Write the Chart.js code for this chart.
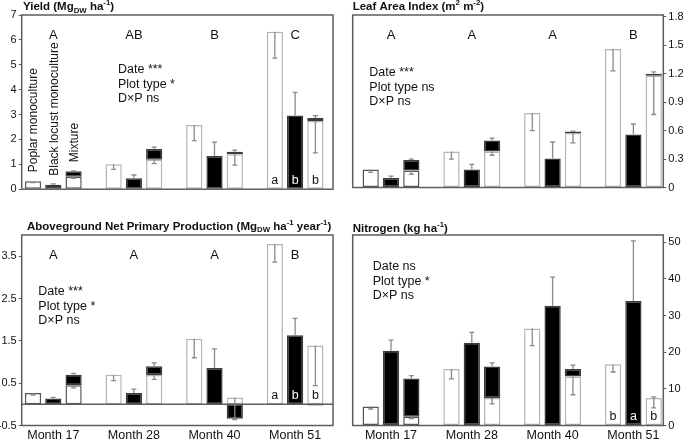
<!DOCTYPE html>
<html>
<head>
<meta charset="utf-8">
<script src="https://cdn.jsdelivr.net/npm/chart.js@4.4.1/dist/chart.umd.min.js"></script>
<style>
html, body { margin: 0; padding: 0; background: #fff; }
#wrap { position: relative; width: 685px; height: 443px; overflow: hidden; }
canvas { position: absolute; }
</style>
</head>
<body>
<div id="wrap">
  <canvas id="yieldChart" width="340" height="220" style="left:0;top:0"></canvas>
  <canvas id="laiChart" width="345" height="220" style="left:340px;top:0"></canvas>
  <canvas id="anppChart" width="340" height="223" style="left:0;top:220px"></canvas>
  <canvas id="nChart" width="345" height="223" style="left:340px;top:220px"></canvas>
</div>
<script>
// categories
const months = ['Month 17', 'Month 28', 'Month 40', 'Month 51'];
const plotTypes = ['Poplar monoculture', 'Black locust monoculture', 'Mixture'];

// yield (Mg DW ha-1)
const yieldPoplar = [0.32, 1.00, 2.58, 6.33];
const yieldPoplarErr = [0.05, 0.20, 0.63, 1.06];
const yieldLocust = [0.18, 0.44, 1.33, 2.96];
const yieldLocustErr = [0.03, 0.13, 0.56, 0.93];
const yieldMixPoplar = [0.50, 1.18, 1.40, 2.74];
const yieldMixPoplarErr = [0.06, 0.15, 0.43, 1.28];
const yieldMixLocust = [0.22, 0.44, 0.10, 0.12];
const yieldMixErr = [0.02, 0.07, 0.07, 0.10];
const yieldTicks = [0, 1, 2, 3, 4, 5, 6, 7];
const yieldGroups = ['A', 'AB', 'B', 'C'];
const yieldLast = ['a', 'b', 'b'];
const yieldStats = ['Date ***', 'Plot type *', 'D\u00d7P ns'];

// leaf area index (m2 m-2)
const laiPoplar = [0.19, 0.38, 0.785, 1.46];
const laiPoplarErr = [0.03, 0.08, 0.185, 0.23];
const laiLocust = [0.10, 0.19, 0.305, 0.56];
const laiLocustErr = [0.02, 0.055, 0.175, 0.11];
const laiMixPoplar = [0.18, 0.38, 0.575, 1.18];
const laiMixPoplarErr = [0.04, 0.04, 0.105, 0.41];
const laiMixLocust = [0.11, 0.115, 0.015, 0.02];
const laiMixErr = [0.01, 0.025, 0.005, 0.02];
const laiTicks = [0, 0.3, 0.6, 0.9, 1.2, 1.5, 1.8];
const laiGroups = ['A', 'A', 'A', 'B'];
const laiStats = ['Date ***', 'Plot type ns', 'D\u00d7P ns'];

// aboveground net primary production (Mg DW ha-1 year-1)
const anppPoplar = [0.27, 0.70, 1.55, 3.79];
const anppPoplarErr = [0.05, 0.14, 0.45, 0.43];
const anppLocust = [0.135, 0.27, 0.86, 1.63];
const anppLocustErr = [0.03, 0.09, 0.45, 0.40];
const anppMixPoplar = [0.45, 0.69, 0.16, 1.39];
const anppMixPoplarErr = [0.06, 0.10, 0.50, 0.95];
const anppMixLocust = [0.25, 0.21, -0.34, -0.03];
const anppMixErr = [0.03, 0.08, 0.02, 0];
const anppTicks = [-0.5, 0.5, 1.5, 2.5, 3.5];
const anppGroups = ['A', 'A', 'A', 'B'];
const anppLast = ['a', 'b', 'b'];
const anppStats = ['Date ***', 'Plot type *', 'D\u00d7P ns'];

// nitrogen (kg ha-1)
const nPoplar = [5.2, 15.4, 26.5, 16.7];
const nPoplarErr = [0.7, 2.7, 4.7, 2.1];
const nLocust = [20.4, 22.6, 32.7, 34.0];
const nLocustErr = [2.9, 2.8, 7.8, 16.4];
const nMixPoplar = [2.4, 7.5, 13.4, 7.5];
const nMixPoplarErr = [0.5, 1.6, 5.0, 2.7];
const nMixLocust = [10.4, 8.6, 2.0, 0];
const nMixErr = [0.8, 1.0, 1.1, 0.3];
const nTicks = [0, 10, 20, 30, 40, 50];
const nLast = ['b', 'a', 'b'];
const nStats = ['Date ns', 'Plot type *', 'D\u00d7P ns'];

const FONT = '"Liberation Sans", Arial, sans-serif';
Chart.defaults.font.family = FONT;
Chart.defaults.color = '#111';

const DARK_EDGE = '#555';
const LIGHT_EDGE = '#b4b4b4';
const BLACK_EDGE = '#3c3c3c';
const ERR_COL = '#8a8a8a';
const BOX_COL = '#5e5e5e';

const whiteEdge = c => c.dataIndex === 0 ? DARK_EDGE : LIGHT_EDGE;

function makeDatasets(p, pe, l, le, mp, mpe, ml, me) {
  const pts = a => a.map((v, i) => ({ x: i, y: v }));
  const mixEnd = ml.map((v, i) => v >= 0 ? mp[i] + v : v);
  return [
    { data: pts(p), stack: 'p', backgroundColor: '#fff', borderColor: whiteEdge,
      errFrom: p, errTo: p.map((v, i) => v - pe[i]) },
    { data: pts(l), stack: 'l', backgroundColor: '#000', borderColor: BLACK_EDGE,
      errFrom: l, errTo: l.map((v, i) => v + le[i]) },
    { data: pts(mp), stack: 'm', backgroundColor: '#fff', borderColor: whiteEdge,
      errFrom: mp, errTo: mp.map((v, i) => v - mpe[i]) },
    { data: pts(ml), stack: 'm', backgroundColor: '#000', borderColor: BLACK_EDGE,
      errFrom: mixEnd, errTo: mixEnd.map((v, i) => v + (ml[i] >= 0 ? 1 : -1) * me[i]) }
  ];
}

function richText(ctx, parts, x, y, size) {
  let cx = x;
  ctx.textAlign = 'left';
  ctx.textBaseline = 'middle';
  parts.forEach(([t, m]) => {
    const s = m ? size * 0.68 : size;
    ctx.font = 'bold ' + s + 'px ' + FONT;
    const dy = m === 'sub' ? size * 0.3 : (m === 'sup' ? -size * 0.32 : 0);
    ctx.fillText(t, cx, y + dy);
    cx += ctx.measureText(t).width;
  });
}

function makeDecor(cfg) {
  return {
    id: 'decor',
    afterDatasetsDraw(chart) {
      const { ctx, chartArea: a, scales: { y } } = chart;
      ctx.save();
      // zero line
      if (y.min < 0) {
        const z = y.getPixelForValue(0);
        ctx.strokeStyle = BOX_COL;
        ctx.lineWidth = 1.5;
        ctx.beginPath(); ctx.moveTo(a.left, z); ctx.lineTo(a.right, z); ctx.stroke();
      }
      // error bars
      ctx.strokeStyle = ERR_COL;
      ctx.lineWidth = 1.3;
      chart.data.datasets.forEach((ds, di) => {
        chart.getDatasetMeta(di).data.forEach((el, i) => {
          if (ds.errTo[i] === ds.errFrom[i]) return;
          const y1 = y.getPixelForValue(ds.errFrom[i]);
          const y2 = y.getPixelForValue(ds.errTo[i]);
          ctx.beginPath();
          ctx.moveTo(el.x, y1); ctx.lineTo(el.x, y2);
          ctx.moveTo(el.x - 2.5, y2); ctx.lineTo(el.x + 2.5, y2);
          ctx.stroke();
        });
      });
      ctx.restore();
    },
    afterDraw(chart) {
      const { ctx, chartArea: a, scales: { x, y } } = chart;
      ctx.save();
      // frame
      ctx.strokeStyle = BOX_COL;
      ctx.lineWidth = 1.5;
      ctx.strokeRect(a.left, a.top, a.right - a.left, a.bottom - a.top);
      ctx.fillStyle = '#111';
      richText(ctx, cfg.title, cfg.titleX, cfg.titleY, 11.5);

      // group letters
      ctx.font = '13px ' + FONT;
      ctx.textAlign = 'center';
      ctx.textBaseline = 'middle';
      (cfg.groups || []).forEach((g, i) => {
        ctx.fillText(g, x.getPixelForValue(i), a.top + 20);
      });

      // statistics
      ctx.font = '12.5px ' + FONT;
      ctx.textAlign = 'left';
      cfg.stats.forEach((s, k) => ctx.fillText(s, cfg.statsX, cfg.statsY + k * 14.5));

      // letters inside the last group
      const z = y.getPixelForValue(0);
      ctx.textAlign = 'center';
      (cfg.last || []).forEach((t, k) => {
        const el = chart.getDatasetMeta(k).data[3];
        ctx.fillStyle = k === 1 ? '#fff' : '#111';
        ctx.fillText(t, el.x, z - 9);
      });

      // plot type labels above first group
      if (cfg.typeLabels) {
        ctx.fillStyle = '#111';
        ctx.font = '12px ' + FONT;
        ctx.textAlign = 'left';
        [0, 1, 3].forEach((di, k) => {
          const el = chart.getDatasetMeta(di).data[0];
          ctx.save();
          ctx.translate(el.x + 1, el.y - 9);
          ctx.rotate(-Math.PI / 2);
          ctx.fillText(plotTypes[k], 0, 0);
          ctx.restore();
        });
      }
      ctx.restore();
    }
  };
}

function makePanel(id, cfg) {
  new Chart(document.getElementById(id), {
    type: 'bar',
    data: { datasets: makeDatasets(...cfg.series) },
    options: {
      responsive: false,
      animation: false,
      devicePixelRatio: 1,
      layout: { padding: cfg.pad },
      plugins: { legend: { display: false }, tooltip: { enabled: false } },
      datasets: { bar: { categoryPercentage: 0.755, barPercentage: 0.8, borderWidth: 1.5, borderSkipped: false } },
      scales: {
        x: {
          type: 'linear', offset: false, min: cfg.xMin, max: cfg.xMax,
          display: cfg.showMonths,
          grid: { display: false, drawTicks: false },
          border: { display: false },
          afterBuildTicks: s => { s.ticks = months.map((m, i) => ({ value: i })); },
          afterFit: s => { s.height = 17.5; },
          ticks: { callback: v => months[v], font: { size: 12.5 }, padding: 3,
                   maxRotation: 0, autoSkip: false, color: '#111' }
        },
        y: {
          position: cfg.yPos, min: cfg.yMin, max: cfg.yMax, stacked: true,
          grid: { drawOnChartArea: false, tickLength: 3, color: BOX_COL },
          border: { display: false },
          afterBuildTicks: s => { s.ticks = cfg.yTicks.map(v => ({ value: v })); },
          afterFit: s => { s.width = 21.7; },
          ticks: { callback: v => String(v), font: { size: 11 }, padding: 2, color: '#111' }
        }
      }
    },
    plugins: [makeDecor(cfg)]
  });
}

makePanel('yieldChart', {
  series: [yieldPoplar, yieldPoplarErr, yieldLocust, yieldLocustErr,
           yieldMixPoplar, yieldMixPoplarErr, yieldMixLocust, yieldMixErr],
  title: [['Yield (Mg', ''], ['DW', 'sub'], [' ha', ''], ['-1', 'sup'], [')', '']],
  titleX: 23, titleY: 7,
  pad: { left: 0, top: 15, right: 7, bottom: 13.3 },
  xMin: -0.392, xMax: 3.47, showMonths: false,
  yPos: 'left', yMin: 0, yMax: 7, yTicks: yieldTicks,
  groups: yieldGroups, last: yieldLast, stats: yieldStats,
  statsX: 118, statsY: 70, typeLabels: true
});

makePanel('laiChart', {
  series: [laiPoplar, laiPoplarErr, laiLocust, laiLocustErr,
           laiMixPoplar, laiMixPoplarErr, laiMixLocust, laiMixErr],
  title: [['Leaf Area Index (m', ''], ['2', 'sup'], [' m', ''], ['-2', 'sup'], [')', '']],
  titleX: 12.7, titleY: 7,
  pad: { left: 12.7, top: 15, right: 0, bottom: 15 },
  xMin: -0.474, xMax: 3.37, showMonths: false,
  yPos: 'right', yMin: 0, yMax: 1.82, yTicks: laiTicks,
  groups: laiGroups, stats: laiStats, statsX: 29.3, statsY: 72.7
});

makePanel('anppChart', {
  series: [anppPoplar, anppPoplarErr, anppLocust, anppLocustErr,
           anppMixPoplar, anppMixPoplarErr, anppMixLocust, anppMixErr],
  title: [['Aboveground Net Primary Production (Mg', ''], ['DW', 'sub'], [' ha', ''], ['-1', 'sup'],
          [' year', ''], ['-1', 'sup'], [')', '']],
  titleX: 27, titleY: 6.5,
  pad: { left: 0, top: 15, right: 7, bottom: 0 },
  xMin: -0.392, xMax: 3.47, showMonths: true,
  yPos: 'left', yMin: -0.5, yMax: 4.0, yTicks: anppTicks,
  groups: anppGroups, last: anppLast, stats: anppStats, statsX: 38.3, statsY: 71.7
});

makePanel('nChart', {
  series: [nPoplar, nPoplarErr, nLocust, nLocustErr,
           nMixPoplar, nMixPoplarErr, nMixLocust, nMixErr],
  title: [['Nitrogen (kg ha', ''], ['-1', 'sup'], [')', '']],
  titleX: 12.7, titleY: 9,
  pad: { left: 12.7, top: 15, right: 0, bottom: 0 },
  xMin: -0.474, xMax: 3.37, showMonths: true,
  yPos: 'right', yMin: 0, yMax: 52, yTicks: nTicks,
  last: nLast, stats: nStats, statsX: 32.7, statsY: 46.7
});
</script>
</body>
</html>
